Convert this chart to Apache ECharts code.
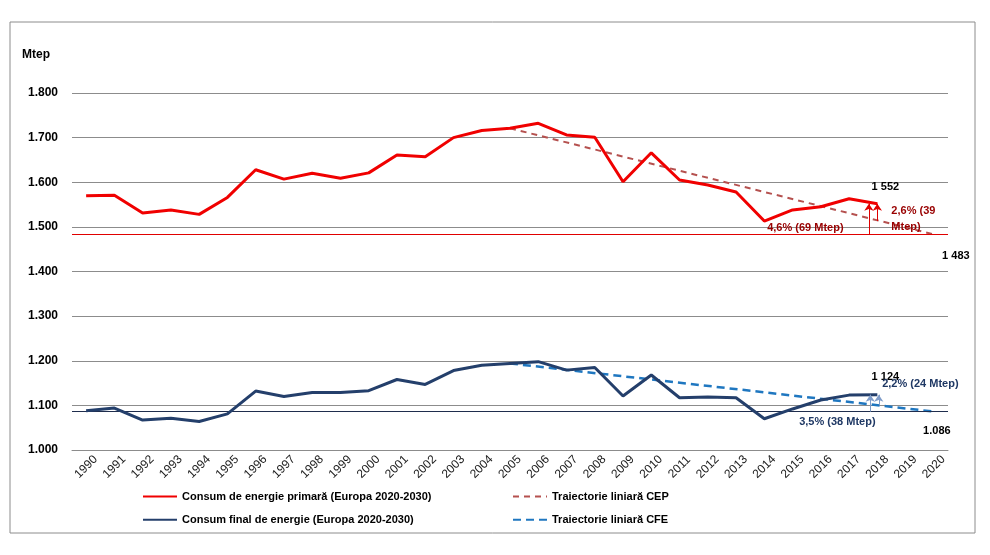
<!DOCTYPE html>
<html lang="ro">
<head>
  <meta charset="UTF-8">
  <title>Consum de energie</title>
  <script src="https://cdn.jsdelivr.net/npm/echarts@6.0.0/dist/echarts.min.js"></script>
  <style>
    html, body { margin: 0; padding: 0; background: #fff; }
    #chart { width: 990px; height: 555px; }
  </style>
</head>
<body>
  <div id="chart"></div>
  <script>
    // date (Mtep)
    const years = ['1990', '1991', '1992', '1993', '1994', '1995', '1996', '1997', '1998', '1999',
      '2000', '2001', '2002', '2003', '2004', '2005', '2006', '2007', '2008', '2009',
      '2010', '2011', '2012', '2013', '2014', '2015', '2016', '2017', '2018', '2019', '2020'];
    const primar = [1570, 1571, 1531, 1538, 1528, 1566, 1628, 1607, 1620, 1609,
      1621, 1661, 1657, 1700, 1716, 1721, 1732, 1706, 1701, 1601,
      1666, 1605, 1594, 1578, 1513, 1538, 1545, 1563, 1552, null, null];
    const final = [1088, 1094, 1067, 1071, 1064, 1081, 1132, 1120, 1129, 1129,
      1133, 1158, 1147, 1178, 1190, 1194, 1198, 1179, 1185, 1121,
      1168, 1117, 1119, 1117, 1070, 1092, 1112, 1123, 1124, null, null];
    // traiectorii liniare: punct de plecare si tinta
    const cepStart = ['2005', 1721];
    const cepTarget = ['2020', 1483];
    const cfeStart = ['2005', 1194];
    const cfeTarget = ['2020', 1086];
    const yTicks = { min: 1000, max: 1800, step: 100 };
    // sageti pentru diferente in 2018 (an, valoare reala, valoare pe traiectorie)
    const cepGap = { year: '2018', actual: 1552, trend: 1513 };
    const cfeGap = { year: '2018', actual: 1124, trend: 1100 };

    const names = {
      cep: 'Consum de energie primară (Europa 2020-2030)',
      cfe: 'Consum final de energie (Europa 2020-2030)',
      cepT: 'Traiectorie liniară CEP',
      cfeT: 'Traiectorie liniară CFE'
    };

    function trendData(start, end) {
      return years.map(y => y === start[0] ? start[1] : (y === end[0] ? end[1] : null));
    }
    const idx = y => years.indexOf(y);

    const font = 'Liberation Sans, Arial, sans-serif';
    const redTxt = '#990000';
    const blueTxt = '#1F3864';

    function note(coord, text, offset, color, extra) {
      return {
        coord: coord,
        label: Object.assign({
          show: true, formatter: text, offset: offset, color: color,
          fontFamily: font, fontWeight: 'bold', fontSize: 11, position: 'inside'
        }, extra || {})
      };
    }

    const chart = echarts.init(document.getElementById('chart'), null, { renderer: 'canvas' });

    const legendBase = {
      orient: 'vertical', top: 491, padding: 0, itemWidth: 34, itemHeight: 14, itemGap: 12,
      itemStyle: { opacity: 0 },
      textStyle: { fontFamily: font, fontWeight: 'bold', fontSize: 11, color: '#000' }
    };

    const option = {
      animation: false,
      backgroundColor: '#fff',
      title: {
        text: 'Mtep', left: 22, top: 49, padding: 0,
        textStyle: { fontFamily: font, fontWeight: 'bold', fontSize: 12, color: '#000' }
      },
      graphic: [{
        type: 'rect',
        shape: { x: 10, y: 22, width: 965, height: 511 },
        style: { fill: 'none', stroke: '#8c8c8c', lineWidth: 1 },
        silent: true
      }],
      grid: { left: 72, right: 42, top: 93, bottom: 105 },
      legend: [
        Object.assign({ left: 142, data: [names.cep, names.cfe] }, legendBase),
        Object.assign({ left: 512, data: [names.cepT, names.cfeT] }, legendBase)
      ],
      xAxis: [{
        type: 'category',
        data: years,
        boundaryGap: true,
        axisLine: { lineStyle: { color: '#8c8c8c' } },
        axisTick: { alignWithLabel: true, length: 5, lineStyle: { color: '#8c8c8c' } },
        axisLabel: {
          rotate: 45, align: 'center', verticalAlign: 'middle', margin: 17,
          fontFamily: font, fontSize: 12, color: '#1a1a1a'
        }
      }, {
        type: 'value', min: -0.5, max: years.length - 0.5, show: false
      }],
      yAxis: {
        type: 'value',
        min: yTicks.min, max: yTicks.max, interval: yTicks.step,
        axisLine: { show: false },
        axisTick: { show: false },
        axisLabel: {
          margin: 14, fontFamily: font, fontWeight: 'bold', fontSize: 12, color: '#000',
          formatter: v => (v / 1000).toFixed(3)
        },
        splitLine: { lineStyle: { color: '#8c8c8c', width: 1 } }
      },
      series: [{
        name: names.cep,
        type: 'line',
        data: primar,
        symbol: 'none',
        z: 5,
        lineStyle: { color: '#F00000', width: 3 },
        itemStyle: { color: '#F00000' },
        markLine: {
          silent: true, symbol: 'none', label: { show: false },
          lineStyle: { color: '#E00000', width: 1, type: 'solid' },
          data: [{ yAxis: cepTarget[1] }]
        },
        markPoint: {
          symbol: 'circle', symbolSize: 0, silent: true,
          data: [
            note([cepGap.year, cepGap.actual], '1 552', [8, -17], '#000'),
            note([cepGap.year, cepTarget[1]], '4,6% (69 Mtep)', [-72, -6], redTxt),
            note([cepGap.year, cepGap.actual], '2,6% (39\nMtep)', [14, 15], redTxt, { align: 'left', lineHeight: 16 }),
            note(cepTarget, '1 483', [22, 22], '#000')
          ]
        }
      }, {
        name: names.cepT,
        type: 'line',
        data: trendData(cepStart, cepTarget),
        connectNulls: true,
        symbol: 'none',
        z: 4,
        lineStyle: { color: '#B5514F', width: 2, type: [6, 5] },
        itemStyle: { color: '#B5514F' }
      }, {
        name: names.cfe,
        type: 'line',
        data: final,
        symbol: 'none',
        z: 5,
        lineStyle: { color: '#243F6B', width: 3 },
        itemStyle: { color: '#243F6B' },
        markLine: {
          silent: true, symbol: 'none', label: { show: false },
          lineStyle: { color: '#1F2D4D', width: 1, type: 'solid' },
          data: [{ yAxis: cfeTarget[1] }]
        },
        markPoint: {
          symbol: 'circle', symbolSize: 0, silent: true,
          data: [
            note([cfeGap.year, cfeGap.actual], '1 124', [8, -18], '#000'),
            note([cfeGap.year, cfeGap.actual], '2,2% (24 Mtep)', [43, -11], blueTxt),
            note([cfeGap.year, cfeTarget[1]], '3,5% (38 Mtep)', [-40, 10], blueTxt),
            note(cfeTarget, '1.086', [3, 19], '#000')
          ]
        }
      }, {
        name: names.cfeT,
        type: 'line',
        data: trendData(cfeStart, cfeTarget),
        connectNulls: true,
        symbol: 'none',
        z: 4,
        lineStyle: { color: '#1F77C0', width: 2.5, type: [8, 5] },
        itemStyle: { color: '#1F77C0' }
      }, {
        // sageti rosii
        type: 'lines',
        coordinateSystem: 'cartesian2d',
        xAxisIndex: 1,
        silent: true,
        z: 6,
        symbol: ['none', 'arrow'],
        symbolSize: 7,
        lineStyle: { color: '#E00000', width: 1, opacity: 1 },
        data: [
          { coords: [[idx(cepGap.year) - 0.3, cepTarget[1]], [idx(cepGap.year) - 0.3, cepGap.actual]] },
          { coords: [[idx(cepGap.year), cepGap.trend], [idx(cepGap.year), cepGap.actual]] }
        ]
      }, {
        // sageti albastre
        type: 'lines',
        coordinateSystem: 'cartesian2d',
        xAxisIndex: 1,
        silent: true,
        z: 6,
        symbol: ['none', 'arrow'],
        symbolSize: 7,
        lineStyle: { color: '#7F9CC9', width: 1, opacity: 1 },
        data: [
          { coords: [[idx(cfeGap.year) - 0.25, cfeTarget[1]], [idx(cfeGap.year) - 0.25, cfeGap.actual]] },
          { coords: [[idx(cfeGap.year) + 0.05, cfeGap.trend], [idx(cfeGap.year) + 0.05, cfeGap.actual]] }
        ]
      }]
    };

    option && chart.setOption(option);
  </script>
</body>
</html>
